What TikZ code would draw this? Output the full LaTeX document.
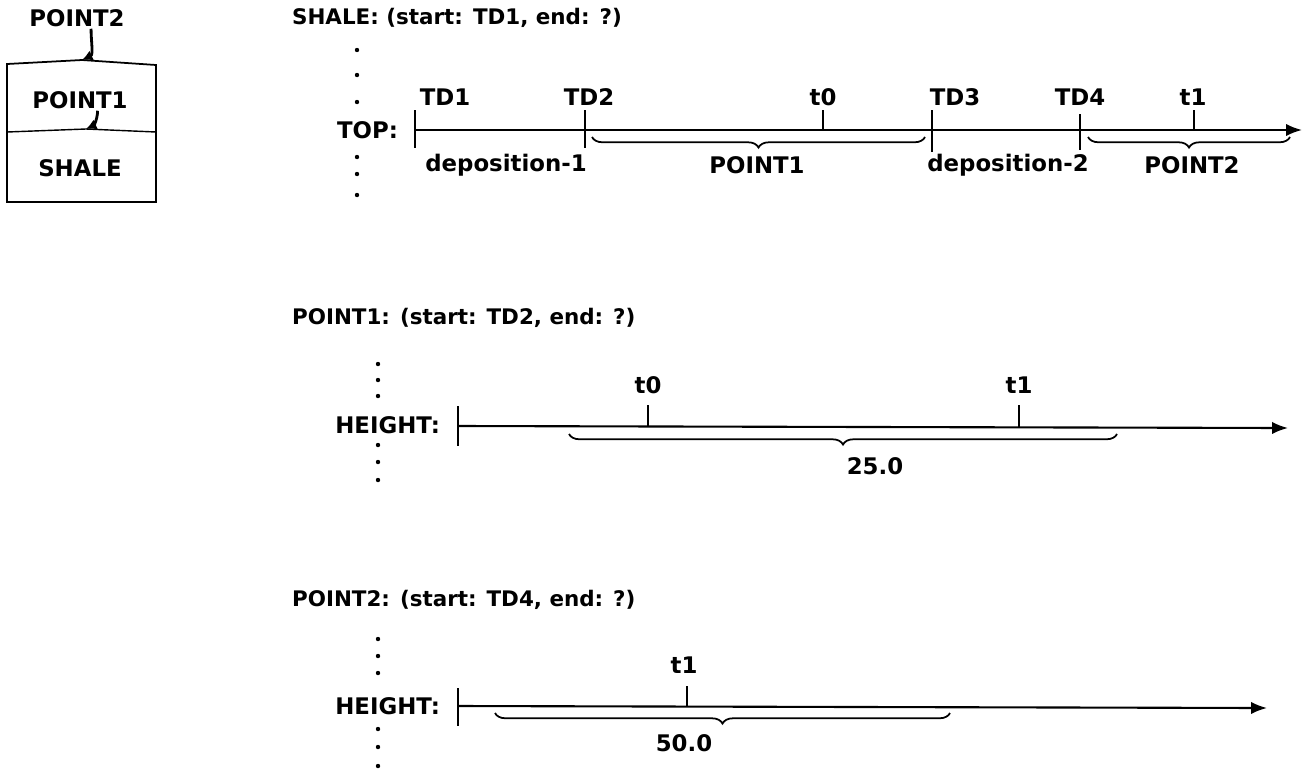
\documentclass[tikz,border=0pt]{standalone}
\usepackage{fontspec}
\setmainfont{DejaVu Sans}
\usetikzlibrary{decorations.pathreplacing,arrows.meta}
\begin{document}
\begin{tikzpicture}[x=0.02cm,y=-0.02cm]
  \tikzstyle{lab}=[font=\bfseries\fontsize{13}{15}\selectfont,inner sep=1pt];
  \tikzstyle{title}=[font=\bfseries\fontsize{12.2}{15}\selectfont,inner sep=1pt,anchor=west];
  \tikzstyle{axis}=[-{Latex[length=9pt,width=7pt]},line width=1.2pt];
  \tikzstyle{tick}=[line width=0.8pt];
  \tikzstyle{brace}=[decorate,decoration={brace,mirror,amplitude=6pt},line width=1pt];
  \tikzstyle{pointer}=[-{Latex[length=6pt,width=6pt]},line width=1.6pt];
  \tikzstyle{dot}=[fill=black];

  \useasboundingbox (0,0) rectangle (1307,778);

  % stack of layers
  \node[lab] (stackp2) at (77,18) {POINT2};
  \node[lab] (stackp1) at (80,100) {POINT1};
  \node[lab] (stacksh) at (80,168) {SHALE};
  \coordinate (topmid) at (82,60);
  \coordinate (midmid) at (86,129);
  \draw[line width=1pt] (7,64) -- (topmid) -- (156,65) -- (156,202) -- (7,202) -- cycle;
  \draw[line width=0.8pt] (7,132) -- (midmid) -- (156,132);
  \draw[pointer] ([xshift=8pt]stackp2.south) to[out=-90,in=25] (topmid);
  \draw[pointer] ([xshift=10pt]stackp1.south) to[out=-90,in=25] (midmid);

  % SHALE : TOP
  \node[title] (shtitle) at (290,18) {SHALE: (start: TD1, end: ?)};
  \node[lab,anchor=east,fill=white] (top) at (400,130) {TOP:};
  \foreach \y in {50,75,102,157,174,195}
    \fill[dot] (357,\y) circle (2.2);
  \coordinate (topstart) at (415,130);
  \coordinate (topend) at (1302,130);
  \draw[axis] (topstart) -- (topend);
  \draw[tick] (415,110) -- (415,148);
  \draw[tick] (585,110) -- (585,148);
  \draw[tick] (823,110) -- (823,130);
  \draw[tick] (932,110) -- (932,152);
  \draw[tick] (1080,114) -- (1080,150);
  \draw[tick] (1194,110) -- (1194,130);
  \node[lab] (td1) at (445,97) {TD1};
  \node[lab] (td2) at (589,97) {TD2};
  \node[lab] (tzero) at (823,97) {t0};
  \node[lab] (td3) at (955,97) {TD3};
  \node[lab] (td4) at (1080,97) {TD4};
  \node[lab] (tone) at (1193,97) {t1};
  \draw[brace] (592,137) -- (925,137);
  \draw[brace] (1088,137) -- (1290,137);
  \node[lab] (dep1) at (506,165) {deposition-1};
  \node[lab] (p1) at (757,165) {POINT1};
  \node[lab] (dep2) at (1008,165) {deposition-2};
  \node[lab] (p2) at (1192,165) {POINT2};

  % POINT1 : HEIGHT
  \node[title] (p1title) at (290,318) {POINT1: (start: TD2, end: ?)};
  \node[lab,anchor=east] (h1) at (442,425) {HEIGHT:};
  \foreach \y in {364,380,396,445,462,480}
    \fill[dot] (378,\y) circle (2.2);
  \coordinate (h1start) at (458,426);
  \coordinate (h1end) at (1288,428);
  \draw[axis] (h1start) -- (h1end);
  \draw[tick] (458,406) -- (458,446);
  \draw[tick] (648,405) -- (648,426);
  \draw[tick] (1019,405) -- (1019,427);
  \node[lab] (htzero) at (648,385) {t0};
  \node[lab] (htone) at (1019,385) {t1};
  \draw[brace] (569,434) -- (1117,434);
  \node[lab] (val1) at (875,466) {25.0};

  % POINT2 : HEIGHT
  \node[title] (p2title) at (290,600) {POINT2: (start: TD4, end: ?)};
  \node[lab,anchor=east] (h2) at (442,706) {HEIGHT:};
  \foreach \y in {639,656,673,729,747,766}
    \fill[dot] (378,\y) circle (2.2);
  \coordinate (h2start) at (458,706);
  \coordinate (h2end) at (1267,708);
  \draw[axis] (h2start) -- (h2end);
  \draw[tick] (458,688) -- (458,726);
  \draw[tick] (687,686) -- (687,706);
  \node[lab] (h2tone) at (684,665) {t1};
  \draw[brace] (495,713) -- (950,713);
  \node[lab] (val2) at (684,743) {50.0};
\end{tikzpicture}
\end{document}
